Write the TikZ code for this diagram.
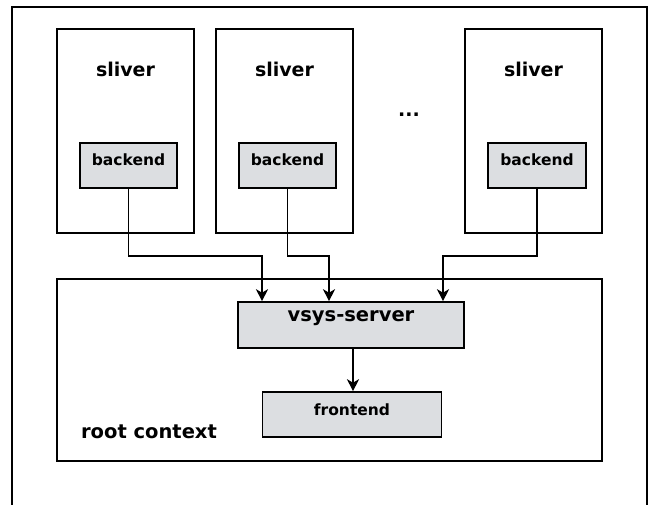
\documentclass[tikz,border=0pt]{standalone}
\usepackage{fontspec}
\setmainfont{DejaVu Sans}
\usetikzlibrary{arrows.meta,calc}
\definecolor{boxgrey}{RGB}{220,222,225}
\tikzset{
  x=1pt,y=-1pt,
  frame/.style={draw=black,line width=1.8pt},
  sliverbox/.style={draw=black,line width=1.6pt,rectangle,inner sep=0pt,minimum width=137pt,minimum height=204pt},
  greybox/.style={draw=black,line width=1.6pt,fill=boxgrey,rectangle,inner sep=0pt},
  lbl/.style={font=\bfseries,inner sep=0pt},
  arr/.style={line width=1.6pt,-{Stealth[length=12pt,width=12pt,inset=3.5pt]}}
}
\begin{document}
\begin{tikzpicture}
\useasboundingbox (0,0) rectangle (656,504);
\draw[frame] (12,505) -- (12,7) -- (647,7) -- (647,505);
% slivers
\node[sliverbox] (s1) at (125.5,131) {};
\node[sliverbox] (s2) at (284.5,131) {};
\node[sliverbox] (s3) at (533.5,131) {};
\node[lbl,font=\fontsize{19}{22}\selectfont\bfseries] (s1t) at (125.5,69) {sliver};
\node[lbl,font=\fontsize{19}{22}\selectfont\bfseries] (s2t) at (284.5,69) {sliver};
\node[lbl,font=\fontsize{19}{22}\selectfont\bfseries] (s3t) at (533.5,69) {sliver};
\node[lbl,font=\fontsize{19}{22}\selectfont\bfseries] (dots) at (409,115) {...};
% backends
\node[greybox,minimum width=97pt,minimum height=45pt] (b1) at (128.5,165.5) {};
\node[greybox,minimum width=97pt,minimum height=45pt] (b2) at (287.5,165.5) {};
\node[greybox,minimum width=98pt,minimum height=45pt] (b3) at (537,165.5) {};
\node[lbl,font=\fontsize{15.5}{18}\selectfont\bfseries] (b1t) at (128.5,160) {backend};
\node[lbl,font=\fontsize{15.5}{18}\selectfont\bfseries] (b2t) at (287.5,160) {backend};
\node[lbl,font=\fontsize{15.5}{18}\selectfont\bfseries] (b3t) at (537,160) {backend};
% root context
\node[draw=black,line width=1.6pt,rectangle,inner sep=0pt,minimum width=545pt,minimum height=182pt] (root) at (329.5,370) {};
\node[lbl,font=\fontsize{19.5}{22}\selectfont\bfseries] (roott) at (149,432) {root context};
\node[greybox,minimum width=226pt,minimum height=46pt] (vs) at (351,325) {};
\node[lbl,font=\fontsize{19.5}{22}\selectfont\bfseries] (vst) at (351,318) {vsys-server};
\node[greybox,minimum width=179pt,minimum height=45pt] (fe) at (352,414.5) {};
\node[lbl,font=\fontsize{15.5}{18}\selectfont\bfseries] (fet) at (352,410) {frontend};
% connectors
\coordinate (t1) at (262,256);
\coordinate (t2) at (329,256);
\coordinate (t3) at (443,256);
\draw[arr] (b1.south) |- (t1) -- (t1 |- vs.north);
\draw[arr] (b2.south) |- (t2) -- (t2 |- vs.north);
\draw[arr] (b3.south) |- (t3) -- (t3 |- vs.north);
\coordinate (m) at (353,0);
\draw[arr] (m |- vs.south) -- (m |- fe.north);
\end{tikzpicture}
\end{document}
